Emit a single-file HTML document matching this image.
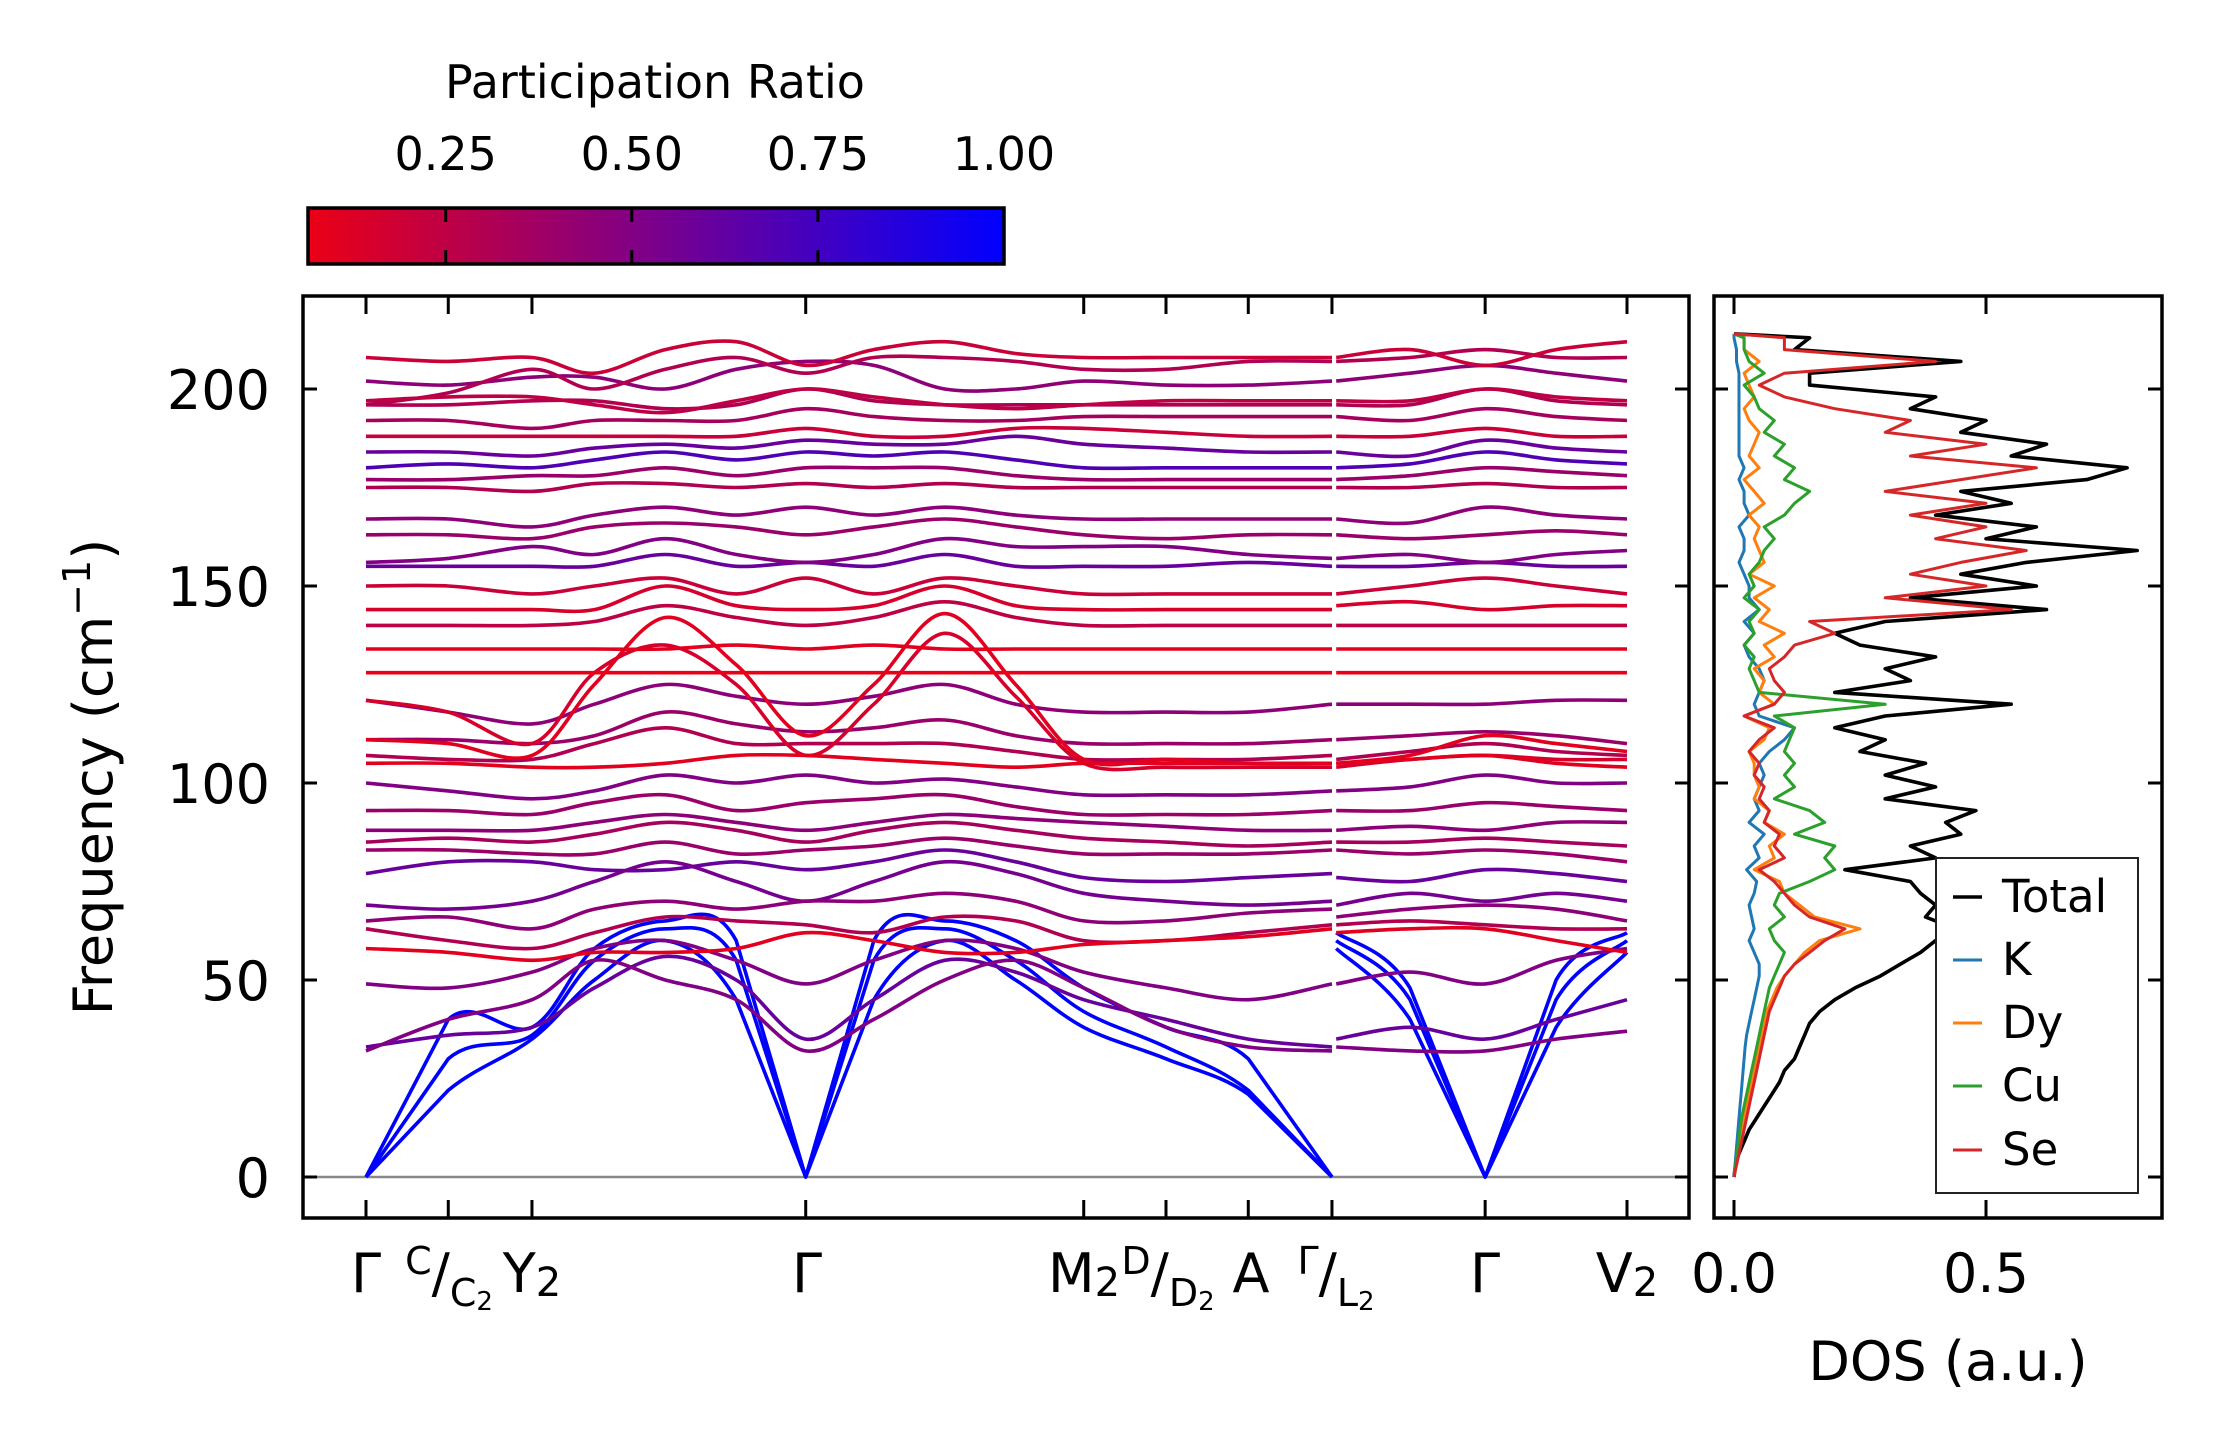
<!DOCTYPE html>
<html><head><meta charset="utf-8">
<style>
html,body{margin:0;padding:0;background:#fff;}
svg{display:block;font-family:"DejaVu Sans","Liberation Sans",sans-serif;}
</style></head>
<body>
<div style="position:relative;width:2222px;height:1455px;">
<svg id="chart" width="2222" height="1455" viewBox="0 0 2222 1455" xmlns="http://www.w3.org/2000/svg" style="position:absolute;left:0;top:0">
<defs>
<linearGradient id="cmap" x1="0" x2="1" y1="0" y2="0">
<stop offset="0" stop-color="rgb(235,0,22)"/>
<stop offset="0.5" stop-color="rgb(122,0,140)"/>
<stop offset="1" stop-color="rgb(0,0,255)"/>
</linearGradient>
</defs>
<g id="colorbar">
<text x="655" y="98" font-size="46" text-anchor="middle">Participation Ratio</text>
<rect x="308" y="208" width="696" height="56" fill="url(#cmap)" stroke="#000" stroke-width="3.5"/>
</g>
<g id="bands"></g>
<g id="dos"></g>
<g id="axes"></g>
</svg>
<svg style="position:absolute;left:0;top:0" width="2222" height="1455" viewBox="0 0 2222 1455" xmlns="http://www.w3.org/2000/svg" font-family="DejaVu Sans, Liberation Sans, sans-serif">
<g font-size="54" text-anchor="middle">
<text x="366" y="1292">Γ</text>
<text x="449" y="1292"><tspan font-size="38" dy="-18">C</tspan><tspan dy="18">/</tspan><tspan font-size="38" dy="14">C</tspan><tspan font-size="26" dy="4">2</tspan></text>
<text x="532" y="1292">Y<tspan font-size="40" dy="4">2</tspan></text>
<text x="807" y="1292">Γ</text>
<text x="1084" y="1292">M<tspan font-size="40" dy="4">2</tspan></text>
<text x="1168" y="1292"><tspan font-size="38" dy="-18">D</tspan><tspan dy="18">/</tspan><tspan font-size="38" dy="14">D</tspan><tspan font-size="26" dy="4">2</tspan></text>
<text x="1251" y="1292">A</text>
<text x="1336" y="1292"><tspan font-size="38" dy="-18">Γ</tspan><tspan dy="18">/</tspan><tspan font-size="38" dy="14">L</tspan><tspan font-size="26" dy="4">2</tspan></text>
<text x="1485" y="1292">Γ</text>
<text x="1627" y="1292">V<tspan font-size="40" dy="4">2</tspan></text>
</g>
<text x="0" y="0" font-size="54" text-anchor="middle" transform="translate(112,777) rotate(-90)">Frequency (cm<tspan font-size="38" dy="-22">−1</tspan><tspan dy="22">)</tspan></text>
<text x="1948" y="1380" font-size="54" text-anchor="middle">DOS (a.u.)</text>
<g>
<rect x="1936" y="858" width="202" height="335" fill="#fff" stroke="#222" stroke-width="2"/>
<line x1="1953" x2="1982" y1="897" y2="897" stroke="#000" stroke-width="3.6"/>
<text x="2002" y="912" font-size="45">Total</text>
<line x1="1953" x2="1982" y1="960" y2="960" stroke="#1f77b4" stroke-width="3"/>
<text x="2002" y="975" font-size="45">K</text>
<line x1="1953" x2="1982" y1="1023" y2="1023" stroke="#ff7f0e" stroke-width="3"/>
<text x="2002" y="1038" font-size="45">Dy</text>
<line x1="1953" x2="1982" y1="1086" y2="1086" stroke="#2ca02c" stroke-width="3"/>
<text x="2002" y="1101" font-size="45">Cu</text>
<line x1="1953" x2="1982" y1="1150" y2="1150" stroke="#d62728" stroke-width="3"/>
<text x="2002" y="1165" font-size="45">Se</text>
</g>
</svg>
</div>
<script>
// ---- colorbar data ----
const cbTicks = [0.25, 0.5, 0.75, 1.0];
const cbLabels = ["0.25", "0.50", "0.75", "1.00"];
const cbMin = 0.065, cbMax = 1.0;

// ---- band structure data ----
const kPoints = [0,58,117,161,211,261,310,358,408,458,506,564,622,681, 684,736,789,839,889];
const kTicks = [0,58,117,310,506,564,622,681,789,889];
const yTicks = [0,50,100,150,200];
const yTickLabels = ["0","50","100","150","200"];
const bandRatio = [1,1,1, .5,.6,.5,.1,.3,.45,.55,.6,.4,.35,.45,.4,.5,.1,.3,.4,.45,.1,.15,.05,.1,.25,.15,.2,.6,.5,.4,.45,.3,.4,.7,.6,.2,.35,.3,.25,.45,.2,.3];
const bandFreq = [
[0,22,35,50,60,45,0,45,60,50,38,30,21,0, 58,40,0,38,57],
[0,30,36,55,63,55,0,55,63,55,42,33,22,0, 60,45,0,45,60],
[0,40,38,58,65,60,0,60,65,60,48,38,30,0, 62,48,0,50,62],
[32,40,45,55,50,45,32,40,50,55,48,38,33,32, 33,32,32,35,37],
[33,36,38,48,56,50,35,45,55,52,45,40,35,33, 35,38,35,40,45],
[49,48,52,58,60,55,49,55,60,58,52,48,45,49, 49,52,49,55,58],
[58,57,55,57,57,58,62,60,57,57,59,60,61,63, 62,63,63,60,57],
[63,60,58,62,66,65,64,62,66,65,60,60,62,64, 64,65,64,63,63],
[65,66,63,68,70,68,70,70,72,70,65,65,67,68, 66,68,69,68,65],
[69,68,70,75,80,75,70,75,80,77,72,70,69,70, 69,72,70,72,70],
[77,80,80,78,78,80,78,80,83,80,76,75,76,77, 76,75,78,77,75],
[83,83,82,82,85,82,83,84,86,84,82,82,82,83, 83,82,83,82,80],
[85,86,85,87,90,88,85,88,90,88,86,85,84,85, 85,85,86,85,84],
[88,88,88,90,92,90,88,90,92,91,90,89,88,88, 88,89,88,90,90],
[93,93,92,95,97,93,95,96,97,94,92,92,92,93, 93,93,95,94,93],
[100,98,96,98,102,100,102,100,101,99,97,97,97,98, 98,99,102,100,100],
[105,105,104,104,105,107,107,106,105,104,105,105,105,105, 105,106,107,105,104],
[107,106,106,110,114,110,110,110,110,108,106,106,106,107, 106,108,110,108,107],
[111,111,110,112,118,115,113,114,116,112,110,110,110,111, 111,112,113,112,110],
[121,118,115,120,125,122,120,122,125,120,118,118,118,120, 120,120,120,121,121],
[111,110,107,125,142,130,112,125,143,125,106,106,105,105, 105,107,112,110,108],
[121,118,110,128,135,125,107,120,138,122,105,104,104,104, 104,106,107,106,106],
[128,128,128,128,128,128,128,128,128,128,128,128,128,128, 128,128,128,128,128],
[134,134,134,134,134,135,134,135,134,134,134,134,134,134, 134,134,134,134,134],
[140,140,140,141,145,142,140,142,146,142,140,140,140,140, 140,140,140,140,140],
[144,144,144,144,150,145,144,145,150,145,144,144,144,144, 145,146,144,145,145],
[150,150,148,150,152,148,152,148,152,150,148,148,148,148, 148,150,152,150,148],
[155,155,155,155,158,155,156,155,158,155,155,155,156,155, 155,155,156,155,155],
[156,157,160,158,162,158,156,158,162,160,160,160,158,157, 157,158,156,158,159],
[163,163,162,165,166,165,163,165,167,165,163,162,163,163, 163,162,163,164,163],
[167,167,165,168,170,168,170,168,170,168,167,167,167,167, 167,166,170,168,167],
[175,175,174,176,176,175,176,175,176,175,175,175,175,175, 175,175,176,175,175],
[177,177,178,178,180,178,180,180,180,178,177,177,177,177, 177,178,180,179,178],
[180,181,180,182,184,182,184,183,184,182,180,180,180,180, 180,181,184,182,181],
[184,184,183,185,186,185,187,186,186,188,186,185,184,184, 184,183,187,185,184],
[188,188,188,188,188,188,190,188,188,190,190,189,188,188, 188,188,190,188,188],
[192,192,190,192,192,192,195,193,192,192,193,193,193,193, 193,192,195,193,192],
[196,196,197,197,195,196,200,197,196,196,196,196,196,196, 196,196,200,197,196],
[197,198,198,196,194,197,200,198,196,195,196,197,197,197, 197,197,200,198,197],
[202,201,203,203,200,205,207,206,200,200,202,201,201,202, 202,204,206,204,202],
[208,207,208,204,210,212,206,210,212,209,208,208,208,208, 208,210,206,210,212],
[196,199,205,200,205,208,204,208,208,207,205,205,207,207, 207,208,210,208,208]
];

// ---- DOS data ----
const dosFreq = [0,3,6,9,12,15,18,21,24,27,30,33,36,39,42,45,48,51,54,57,60,63,66,69,72,75,78,81,84,87,90,93,96,99,102,105,108,111,114,117,120,123,126,129,132,135,138,141,144,147,150,153,156,159,162,165,168,171,174,177,180,183,186,189,192,195,198,201,204,207,210,213,214];
const dosTotal = [0,0.003,0.01,0.02,0.03,0.045,0.06,0.075,0.09, 0.1,0.12,0.13,0.14,0.15,0.17,0.2,0.24,0.29, 0.33,0.37,0.4,0.44,0.38,0.4,0.37,0.35,0.22, 0.4,0.35,0.45,0.42,0.48,0.3,0.4,0.3,0.38, 0.25,0.3,0.2,0.3,0.55,0.2,0.35,0.3,0.4, 0.25,0.2,0.3,0.62,0.35,0.6,0.45,0.58,0.8, 0.5,0.6,0.4,0.55,0.45,0.7,0.78,0.55,0.62, 0.45,0.5,0.35,0.4,0.15,0.15,0.45,0.12,0.15,0];
const dosK = [0,0.002,0.004,0.006,0.008,0.01,0.012,0.014,0.016, 0.018,0.02,0.022,0.025,0.03,0.035,0.04,0.045,0.05, 0.05,0.04,0.03,0.04,0.035,0.03,0.04,0.045,0.025, 0.05,0.04,0.06,0.03,0.05,0.04,0.05,0.06,0.05, 0.07,0.1,0.12,0.05,0.04,0.05,0.06,0.05,0.03, 0.02,0.04,0.02,0.05,0.03,0.03,0.02,0.01,0.02, 0.02,0.01,0.03,0.02,0.02,0.01,0.02,0.01,0.01, 0.01,0.01,0.01,0.01,0.01,0.01,0.005,0.005,0,0];
const dosDy = [0,0.004,0.008,0.012,0.016,0.02,0.025,0.03,0.035, 0.04,0.045,0.05,0.055,0.06,0.065,0.075,0.085,0.1, 0.12,0.14,0.17,0.25,0.16,0.13,0.1,0.09,0.04, 0.08,0.07,0.1,0.06,0.07,0.04,0.05,0.04,0.04, 0.03,0.06,0.07,0.02,0.08,0.05,0.06,0.04,0.08, 0.06,0.1,0.05,0.07,0.04,0.08,0.03,0.06,0.05, 0.04,0.05,0.03,0.06,0.04,0.02,0.05,0.03,0.04, 0.05,0.03,0.02,0.04,0.03,0.02,0.05,0.02,0.02,0];
const dosCu = [0,0.003,0.006,0.009,0.012,0.015,0.02,0.025,0.03, 0.035,0.04,0.045,0.05,0.055,0.06,0.065,0.07,0.08, 0.09,0.1,0.08,0.07,0.1,0.08,0.09,0.15,0.2, 0.18,0.2,0.12,0.18,0.15,0.08,0.12,0.1,0.12, 0.1,0.11,0.12,0.08,0.3,0.05,0.04,0.03,0.04, 0.02,0.04,0.03,0.05,0.02,0.04,0.03,0.05,0.06, 0.08,0.06,0.1,0.12,0.15,0.1,0.12,0.08,0.1, 0.06,0.08,0.05,0.04,0.02,0.06,0.03,0.02,0.02,0];
const dosSe = [0,0.005,0.01,0.015,0.02,0.025,0.03,0.035,0.04, 0.045,0.05,0.055,0.06,0.065,0.07,0.08,0.09,0.1, 0.12,0.15,0.18,0.22,0.15,0.12,0.1,0.08,0.05, 0.1,0.08,0.09,0.06,0.07,0.05,0.06,0.04,0.05, 0.03,0.05,0.08,0.02,0.08,0.1,0.08,0.07,0.1, 0.12,0.2,0.15,0.55,0.3,0.5,0.35,0.45,0.58, 0.4,0.5,0.35,0.5,0.3,0.45,0.6,0.35,0.5, 0.3,0.35,0.2,0.1,0.05,0.1,0.4,0.1,0.1,0];
const dosTicks = [0, 0.5];
const dosTickLabels = ["0.0", "0.5"];

const NS = "http://www.w3.org/2000/svg";
function mk(tag, attrs, parent) {
  const e = document.createElementNS(NS, tag);
  for (const k in attrs) e.setAttribute(k, attrs[k]);
  parent.appendChild(e);
  return e;
}
const xK = k => 366 + k * 1261 / 889;
const yF = f => 1177 - f * 3.94;
const xD = v => 1734 + v * 504;
const xCb = v => 308 + (v - cbMin) / (cbMax - cbMin) * 696;
function cmap(r) {
  const t = Math.max(0, Math.min(1, (r - cbMin) / (cbMax - cbMin)));
  let R, B;
  if (t < 0.5) { const u = t / 0.5; R = 235 + (122 - 235) * u; B = 22 + (140 - 22) * u; }
  else { const u = (t - 0.5) / 0.5; R = 122 * (1 - u); B = 140 + (255 - 140) * u; }
  return `rgb(${R|0},0,${B|0})`;
}
function smoothPath(pts, zeroY) {
  let d = `M${pts[0][0].toFixed(1)},${pts[0][1].toFixed(1)}`;
  for (let i = 0; i < pts.length - 1; i++) {
    const p1 = pts[i], p2 = pts[i + 1];
    if (Math.abs(p1[1] - zeroY) < 0.5 || Math.abs(p2[1] - zeroY) < 0.5) {
      d += ` L${p2[0].toFixed(1)},${p2[1].toFixed(1)}`;
      continue;
    }
    const p0 = pts[Math.max(0, i - 1)], p3 = pts[Math.min(pts.length - 1, i + 2)];
    const c1x = p1[0] + (p2[0] - p0[0]) / 6, c1y = p1[1] + (p2[1] - p0[1]) / 6;
    const c2x = p2[0] - (p3[0] - p1[0]) / 6, c2y = p2[1] - (p3[1] - p1[1]) / 6;
    d += ` C${c1x.toFixed(1)},${c1y.toFixed(1)} ${c2x.toFixed(1)},${c2y.toFixed(1)} ${p2[0].toFixed(1)},${p2[1].toFixed(1)}`;
  }
  return d;
}
function linePath(pts) {
  return pts.map((p, i) => (i ? "L" : "M") + p[0].toFixed(1) + "," + p[1].toFixed(1)).join(" ");
}

const cbG = document.getElementById("colorbar");
cbTicks.forEach((v, i) => {
  const x = xCb(v);
  if (v < 1) {
    const t1 = mk("line", {x1: x, x2: x, y1: 208, y2: 222, stroke: "#000", "stroke-width": 3}, cbG);
    
    
    const t2 = mk("line", {x1: x, x2: x, y1: 250, y2: 264, stroke: "#000", "stroke-width": 3}, cbG);
    
    
  }
  const tl = mk("text", {x: x, y: 170, "font-size": 46, "text-anchor": "middle"}, cbG);
  tl.textContent = cbLabels[i];
  
  
});

const bG = document.getElementById("bands");
const zl = mk("line", {x1: 302, x2: 1689, y1: yF(0), y2: yF(0), stroke: "#888", "stroke-width": 2.5}, bG);


const order = bandFreq.map((_, i) => i).sort((a, b) => bandRatio[b] - bandRatio[a]);
order.forEach(bi => {
  const f = bandFreq[bi];
  const seg1 = [], seg2 = [];
  for (let j = 0; j < kPoints.length; j++) {
    const p = [xK(kPoints[j]), yF(f[j])];
    (j < 14 ? seg1 : seg2).push(p);
  }
  [seg1, seg2].forEach(seg => {
    const p = mk("path", {d: smoothPath(seg, yF(0)), fill: "none", stroke: cmap(bandRatio[bi]), "stroke-width": 3.6, "stroke-linejoin": "round"}, bG);
    
    
  });
});

const dG = document.getElementById("dos");
const dosSeries = [
  {name: "total", vals: dosTotal, color: "#000"},
  {name: "k", vals: dosK, color: "#1f77b4"},
  {name: "dy", vals: dosDy, color: "#ff7f0e"},
  {name: "cu", vals: dosCu, color: "#2ca02c"},
  {name: "se", vals: dosSe, color: "#d62728"}
];
dosSeries.forEach(s => {
  const pts = dosFreq.map((f, i) => [xD(s.vals[i]), yF(f)]);
  const p = mk("path", {d: linePath(pts), fill: "none", stroke: s.color, "stroke-width": s.name === "total" ? 3.6 : 3, "stroke-linejoin": "round"}, dG);
  
  
});

const aG = document.getElementById("axes");
const mainFrame = mk("rect", {x: 303, y: 296, width: 1386, height: 922, fill: "none", stroke: "#000", "stroke-width": 3.5}, aG);


const dosFrame = mk("rect", {x: 1714, y: 296, width: 448, height: 922, fill: "none", stroke: "#000", "stroke-width": 3.5}, aG);



yTicks.forEach((v, i) => {
  const y = yF(v);
  [[303, 317], [1675, 1689], [1714, 1728], [2148, 2162]].forEach(([a, b]) => {
    const t = mk("line", {x1: a, x2: b, y1: y, y2: y, stroke: "#000", "stroke-width": 3}, aG);
    
    
  });
  const tl = mk("text", {x: 270, y: y + 20, "font-size": 54, "text-anchor": "end"}, aG);
  tl.textContent = yTickLabels[i];
  
  
});
kTicks.forEach(k => {
  const x = xK(k);
  [[296, 314], [1200, 1218]].forEach(([a, b]) => {
    const t = mk("line", {x1: x, x2: x, y1: a, y2: b, stroke: "#000", "stroke-width": 3}, aG);
    
    
  });
});
dosTicks.forEach((v, i) => {
  const x = xD(v);
  [[296, 314], [1200, 1218]].forEach(([a, b]) => {
    const t = mk("line", {x1: x, x2: x, y1: a, y2: b, stroke: "#000", "stroke-width": 3}, aG);
    
    
  });
  const tl = mk("text", {x: x, y: 1292, "font-size": 54, "text-anchor": "middle"}, aG);
  tl.textContent = dosTickLabels[i];
  
  
});
</script>
</body></html>
